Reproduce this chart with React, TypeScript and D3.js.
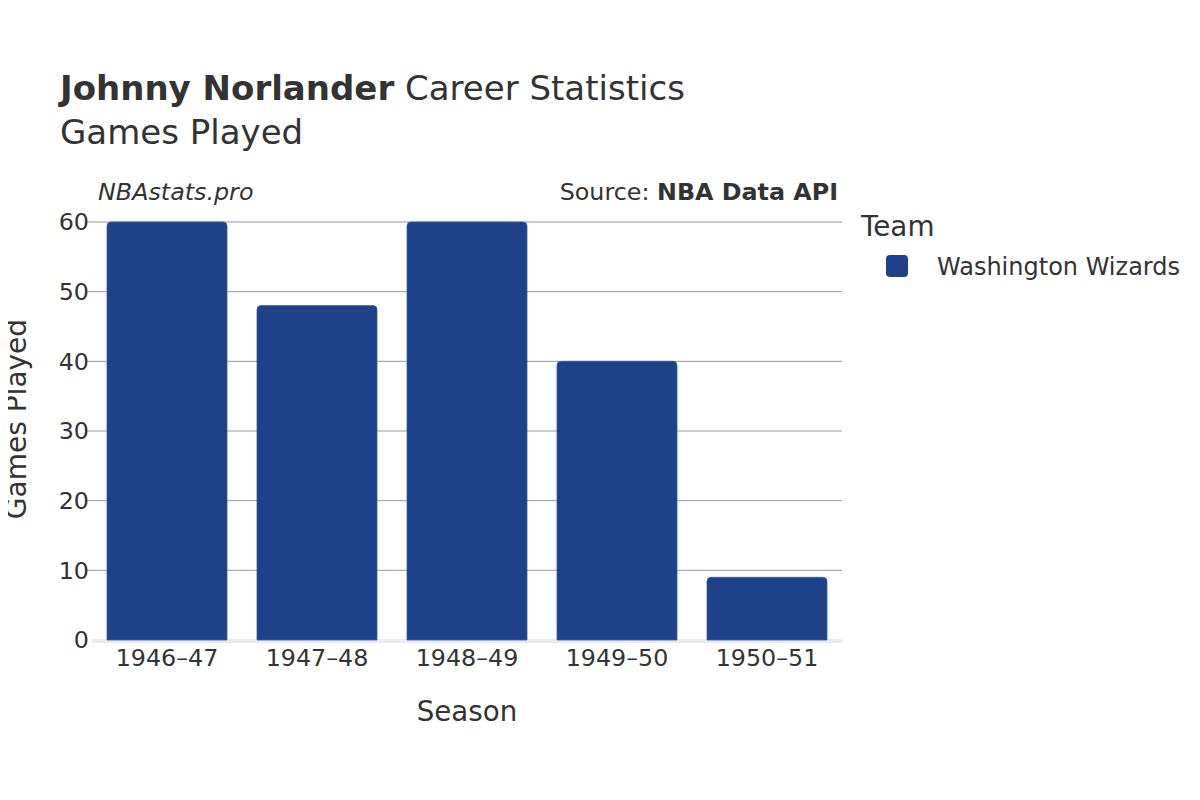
import React from "react";
import * as d3 from "d3";

const seasons = ["1946–47", "1947–48", "1948–49", "1949–50", "1950–51"];
const gamesPlayed = [60, 48, 60, 40, 9];
const yTicks = [0, 10, 20, 30, 40, 50, 60];
const teamName = "Washington Wizards";
const teamColor = "#1d428a";

export default function App() {
  const W = 1200, H = 800;
  const left = 92, right = 842, top = 222, bottom = 640;
  const x = d3.scaleBand<string>().domain(seasons).range([left, right]).paddingInner(0.2).paddingOuter(0.1);
  const y = d3.scaleLinear().domain([0, 60]).range([bottom, top]);
  const font = "'DejaVu Sans', Verdana, sans-serif";
  const txt = "#333333";
  const r = 4;
  const barPath = (x0: number, w: number, y0: number, y1: number) => {
    const p = d3.path();
    p.moveTo(x0, y1);
    p.lineTo(x0, y0 + r);
    p.arcTo(x0, y0, x0 + r, y0, r);
    p.lineTo(x0 + w - r, y0);
    p.arcTo(x0 + w, y0, x0 + w, y0 + r, r);
    p.lineTo(x0 + w, y1);
    p.closePath();
    return p.toString();
  };
  return (
    <svg width={W} height={H} style={{ display: "block", margin: "-8px", fontFamily: font }}>
      <rect width={W} height={H} fill="#ffffff" />
      <text x={60} y={100} fontSize={34} fill={txt}>
        <tspan fontWeight="bold">Johnny Norlander</tspan>
        <tspan> Career Statistics</tspan>
      </text>
      <text x={60} y={144} fontSize={34} fill={txt}>Games Played</text>
      <text x={98} y={200} fontSize={23.8} fontStyle="italic" fill={txt}>NBAstats.pro</text>
      <text x={838} y={200} fontSize={23.8} textAnchor="end" fill={txt}>
        <tspan>Source: </tspan>
        <tspan fontWeight="bold">NBA Data API</tspan>
      </text>
      {yTicks.filter(t => t > 0).map(t => (
        <line key={t} x1={86} x2={right} y1={y(t)} y2={y(t)} stroke="#999999" strokeWidth={1} />
      ))}
      <rect x={left} y={bottom - 1} width={right - left} height={4} fill="#ebebeb" />
      {yTicks.map(t => (
        <text key={t} x={89} y={y(t)} dy="0.35em" fontSize={23.8} textAnchor="end" fill={txt}>{t}</text>
      ))}
      {seasons.map((s, i) => (
        <path key={s} d={barPath(x(s)!, x.bandwidth(), y(gamesPlayed[i]), y(0))} fill={teamColor} stroke="#3a5a9c" strokeWidth={0.8} />
      ))}
      {seasons.map(s => (
        <text key={s} x={x(s)! + x.bandwidth() / 2} y={666} fontSize={23.8} textAnchor="middle" fill={txt}>{s}</text>
      ))}
      <text x={(left + right) / 2} y={721} fontSize={27.7} textAnchor="middle" fill={txt}>Season</text>
      <text transform={`translate(26, ${(top + bottom) / 2 - 12}) rotate(-90)`} fontSize={28} textAnchor="middle" fill={txt}>Games Played</text>
      <text x={861} y={236} fontSize={27.8} fill={txt}>Team</text>
      <rect x={886} y={255} width={22} height={22} rx={4} fill={teamColor} />
      <text x={937} y={275} fontSize={24} fill={txt}>{teamName}</text>
    </svg>
  );
}
